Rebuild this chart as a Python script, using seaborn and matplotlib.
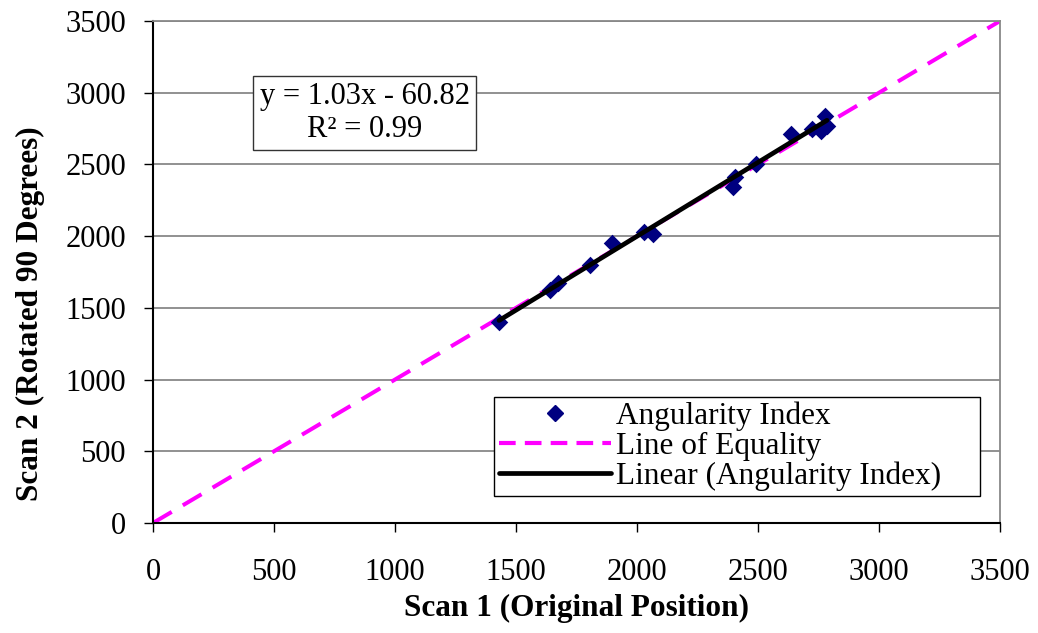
import numpy as np
import pandas as pd
import matplotlib
matplotlib.use("Agg")
import matplotlib.pyplot as plt
import seaborn as sns
from matplotlib.lines import Line2D

scan1 = [1430, 1640, 1675, 1805, 1895, 2030, 2065, 2395, 2405, 2490, 2635, 2725, 2760, 2775, 2785]
scan2 = [1400, 1625, 1675, 1800, 1950, 2030, 2015, 2345, 2410, 2500, 2710, 2750, 2730, 2840, 2770]
equality = [0, 3500]
ticks = [0, 500, 1000, 1500, 2000, 2500, 3000, 3500]
slope, intercept = 1.03, -60.82
eq_text = "y = 1.03x - 60.82\nR² = 0.99"

sns.set_theme(style="white")
plt.rcParams['font.family'] = ['Liberation Serif', 'DejaVu Serif']
plt.rcParams['text.color'] = 'black'
plt.rcParams['axes.labelcolor'] = 'black'

df = pd.DataFrame({"s1": scan1, "s2": scan2})

fig = plt.figure(figsize=(10.38, 6.33), dpi=100)
ax = fig.add_axes([0.1474, 0.1738, 0.8160, 0.793])

ax.yaxis.grid(True, color="#888888", linewidth=1.3)
ax.set_axisbelow(True)

sns.lineplot(x=equality, y=equality, ax=ax, color="#FF00FF", linewidth=2.9,
             linestyle=(0, (5.4, 3.2)), zorder=2)
sns.scatterplot(data=df, x="s1", y="s2", ax=ax, marker="D", s=80, color="#000080",
                edgecolor="#000080", linewidth=0, zorder=3)
xfit = np.array([min(scan1), max(scan1)])
sns.lineplot(x=xfit, y=slope * xfit + intercept, ax=ax, color="black", linewidth=3.4, zorder=4)

ax.set_xlim(0, 3500)
ax.set_ylim(0, 3500)
ax.set_xticks(ticks)
ax.set_yticks(ticks)
ax.tick_params(axis="both", labelsize=22, length=6.5, width=1, direction="out",
               bottom=True, left=True, colors="black")
ax.tick_params(axis="x", pad=19)
ax.tick_params(axis="y", pad=13)
ax.set_xlabel("Scan 1 (Original Position)", fontsize=22.5, fontweight="bold", labelpad=5)
ax.set_ylabel("Scan 2 (Rotated 90 Degrees)", fontsize=22.5, fontweight="bold")
ax.yaxis.set_label_coords(-0.128, 0.416)

for sp in ["left", "bottom"]:
    ax.spines[sp].set_color("black")
    ax.spines[sp].set_linewidth(1.5)
for sp in ["top", "right"]:
    ax.spines[sp].set_color("#888888")
    ax.spines[sp].set_linewidth(1.3)

fig.text(0.3512, 0.8215, eq_text, fontsize=22, ha="center", va="center",
         linespacing=1.15,
         bbox=dict(boxstyle="square,pad=0.22", facecolor="white", edgecolor="#333333", linewidth=1.0),
         zorder=6)

handles = [
    Line2D([], [], marker="D", linestyle="none", color="#000080", markersize=8),
    Line2D([], [], color="#FF00FF", linewidth=3, linestyle=(0, (4, 2.2))),
    Line2D([], [], color="black", linewidth=3.4),
]
labels = ["Angularity Index", "Line of Equality", "Linear (Angularity Index)"]
leg = ax.legend(handles, labels, loc="lower left", bbox_to_anchor=(0.4026, 0.054, 0.5734, 0.2),
                mode="expand",
                fontsize=22.5, frameon=True, fancybox=False, framealpha=1,
                edgecolor="black", handlelength=3.6, handletextpad=0.15,
                borderpad=0.15, labelspacing=0.02, borderaxespad=0)
leg.get_frame().set_linewidth(1.0)

fig.savefig("out.png", dpi=100)
